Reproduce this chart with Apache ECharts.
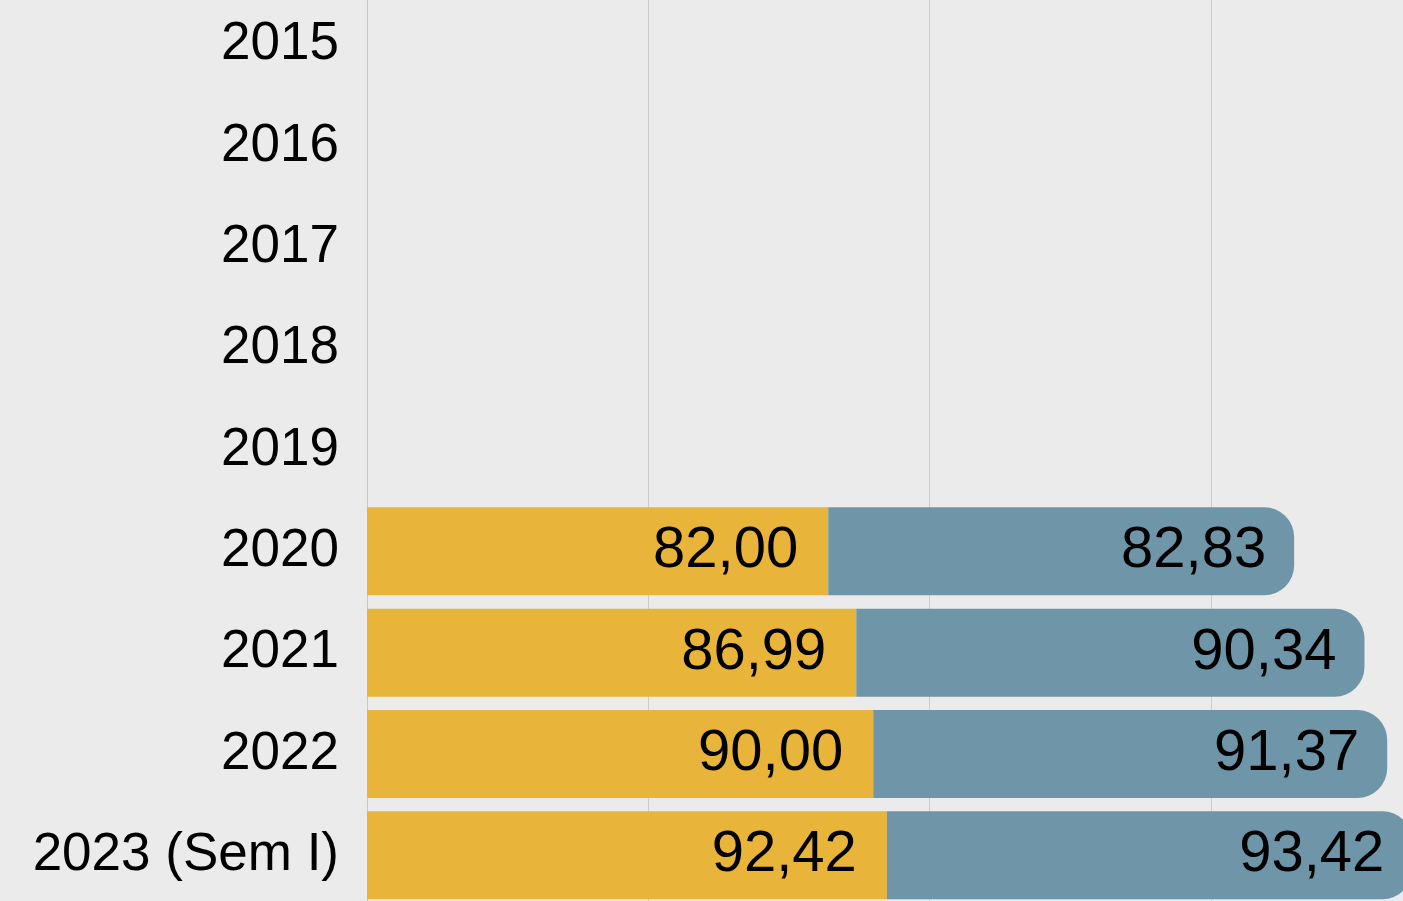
<!DOCTYPE html>
<html>
<head>
<meta charset="utf-8">
<script src="https://cdn.jsdelivr.net/npm/echarts@6/dist/echarts.min.js"></script>
<style>
  html, body { margin: 0; padding: 0; background: #ebebeb; overflow: hidden; }
  /* plot runs past the right edge of the window, as in the original */
  #chart { position: absolute; left: 0; top: -6px; width: 1492px; height: 912px; }
</style>
</head>
<body>
<div id="chart"></div>
<script>
// anos (de cima para baixo)
var years = ["2015", "2016", "2017", "2018", "2019", "2020", "2021", "2022", "2023 (Sem I)"];
// segmento amarelo
var serieA = [null, null, null, null, null, 82.00, 86.99, 90.00, 92.42];
// segmento azul (empilhado)
var serieB = [null, null, null, null, null, 82.83, 90.34, 91.37, 93.42];
var xTicks = [0, 50, 100, 150, 200];

function fmt(p) {
  return p.value == null ? "" : p.value.toFixed(2).replace(".", ",");
}

var chart = echarts.init(document.getElementById("chart"));
chart.setOption({
  backgroundColor: "#ebebeb",
  animation: false,
  grid: { left: 367, right: 0, top: 0, bottom: 0, containLabel: false },
  xAxis: {
    type: "value",
    min: xTicks[0],
    max: xTicks[xTicks.length - 1],
    interval: 50,
    axisLabel: { show: false },
    axisLine: { show: false },
    axisTick: { show: false },
    splitLine: { show: true, lineStyle: { color: "#cccccc", width: 1 } }
  },
  yAxis: {
    type: "category",
    data: years,
    inverse: true,
    axisTick: { show: false },
    axisLine: { show: true, lineStyle: { color: "#c8c8c8", width: 1 } },
    axisLabel: {
      color: "#000",
      fontSize: 53,
      fontFamily: "Liberation Sans, Arial, sans-serif",
      margin: 28
    }
  },
  series: [
    {
      name: "A",
      type: "bar",
      stack: "total",
      data: serieA,
      barWidth: 88,
      itemStyle: { color: "#e9b43a" },
      label: {
        show: true,
        position: "insideRight",
        distance: 30,
        formatter: fmt,
        color: "#000",
        fontSize: 58,
        fontFamily: "Liberation Sans, Arial, sans-serif"
      }
    },
    {
      name: "B",
      type: "bar",
      stack: "total",
      data: serieB,
      barWidth: 88,
      itemStyle: { color: "#6f95a8", borderRadius: [0, 30, 30, 0] },
      label: {
        show: true,
        position: "insideRight",
        distance: 28,
        formatter: fmt,
        color: "#000",
        fontSize: 58,
        fontFamily: "Liberation Sans, Arial, sans-serif"
      }
    }
  ]
});
</script>
</body>
</html>
